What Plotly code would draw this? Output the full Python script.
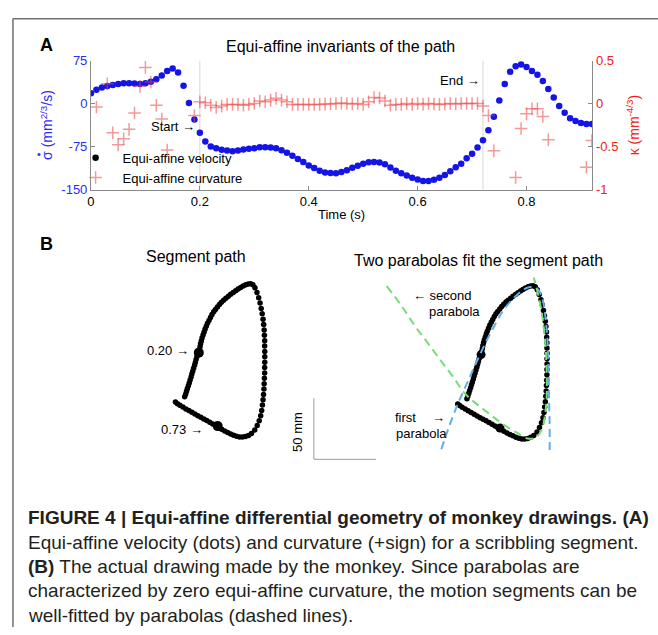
import numpy as np
import plotly.graph_objects as go

W, H = 658, 635
FONT = "Liberation Sans, Arial, Helvetica, sans-serif"
CAP_FONT = "Liberation Sans, Arial, Helvetica, sans-serif"

# ---------------- Panel A data ----------------
time_s = np.round(np.arange(0, 0.925, 0.01), 2)  # sampling instants (s)

velocity = [
    18, 24, 28, 30.5, 32.5, 34, 35.5, 35.5, 35, 34,
    35.5, 38, 42.5, 49, 56.5, 61, 54, 31, 1, -28,
    -51, -66, -75, -78, -80.5, -82, -83, -82, -80, -79,
    -78, -76, -76, -76.5, -78, -81.5, -86, -91, -96.5, -102,
    -108, -112.5, -117, -120, -121, -121.5, -119.5, -116.5, -112, -108.5,
    -105, -102.5, -102, -103, -106, -111.5, -117, -121.5, -125.5, -129.5,
    -132.5, -135, -135, -133, -129.5, -124.5, -118, -111, -105, -95.5,
    -87.5, -76.5, -64, -46.5, -23, 5.5, 34, 55.5, 65, 68,
    63.5, 56.5, 50, 39.5, 25.5, 10.5, -4.5, -16, -25.5, -30.5,
    -34, -35.5, -35.5,
]

curvature = [
    None, -0.04, None, 0.23, -0.34, -0.48, -0.41, -0.30, -0.11, 0.20,
    0.42, 0.25, -0.02, -0.18, -0.54, None, None, None, None, -0.14,
    0.02, 0.01, -0.02, -0.045, -0.03, -0.01, -0.01, -0.01, -0.02, -0.01,
    0.0, 0.03, 0.02, 0.04, 0.06, 0.04, 0.02, -0.01, -0.01, -0.01,
    -0.01, -0.01, -0.01, -0.005, -0.005, 0.0, 0.005, 0.0, -0.005, 0.0,
    -0.01, 0.02, 0.07, 0.065, 0.03, -0.02, -0.01, -0.01, 0.0, -0.01,
    0.0, -0.01, 0.0, -0.005, -0.01, -0.005, 0.0, -0.005, 0.0, 0.0,
    0.0, 0.0, -0.03, -0.14, -0.55, None, None, None, -0.86, -0.29,
    -0.12, -0.06, -0.06, -0.15, -0.42, None, None, None, None, None,
    None, -0.74, -0.43,
]

segment_bounds = [0.2, 0.72]  # start / end of the segment (s)

vel_ticks = [-150, -75, 0, 75]
vel_ticktext = ["-150", "-75", "0", "75"]
curv_ticks = [-1, -0.5, 0, 0.5]
curv_ticktext = ["-1", "-0.5", "0", "0.5"]
time_ticks = [0, 0.2, 0.4, 0.6, 0.8]
time_ticktext = ["0", "0.2", "0.4", "0.6", "0.8"]

# ---------------- Panel B data (mm) ----------------
path_x = [
    97.4, 98.2, 98.9, 99.6, 100.4, 101.1, 101.8, 102.6, 103.2, 103.9,
    104.6, 105.4, 106.0, 106.6, 107.3, 108.0, 109.2, 109.8, 110.2, 110.8,
    111.4, 112.2, 113.0, 113.8, 114.8, 115.8, 117.0, 118.2, 119.4, 120.8,
    122.2, 123.8, 125.4, 127.0, 128.8, 130.6, 132.6, 134.5, 136.5, 138.5,
    140.5, 142.5, 144.5, 146.6, 148.6, 150.6, 152.4,
    154.0, 155.6, 157.0, 158.1, 159.0, 159.8, 160.5, 161.0, 161.4, 161.6,
    161.8, 161.8, 161.9, 161.9, 161.9, 161.8, 161.8, 161.6, 161.4, 161.2,
    160.9, 160.5, 160.0, 159.4, 158.6, 157.4, 155.8, 153.8, 151.2,
    148.8, 146.4, 144.0, 141.6, 139.2, 136.8, 134.4, 132.0, 129.6, 127.2,
    124.8, 122.4, 120.0, 117.6, 115.2, 112.8, 110.4, 108.0, 105.6, 103.2,
    100.8, 98.4, 96.0, 93.6, 91.6, 90.0,
]
path_y = [
    56.6, 58.8, 61.1, 63.4, 65.6, 68.0, 70.4, 72.8, 75.2, 77.6,
    80.0, 82.4, 84.8, 87.2, 89.6, 92.0, 95.2, 97.6, 100.0, 102.4,
    104.8, 107.2, 109.6, 112.0, 114.4, 116.8, 119.2, 121.6, 124.0, 126.2,
    128.2, 130.2, 132.2, 134.0, 135.8, 137.4, 139.0, 140.6, 142.1, 143.5,
    145.0, 146.2, 147.4, 148.4, 149.1, 149.3, 148.4,
    146.0, 142.0, 137.8, 133.4, 129.0, 124.6, 120.2, 115.8, 111.4, 107.0,
    102.6, 98.2, 93.8, 89.4, 85.0, 80.6, 76.2, 71.8, 67.4, 63.0,
    58.6, 54.2, 49.8, 45.4, 41.1, 37.0, 33.0, 29.4, 26.6,
    25.0, 24.0, 23.6, 23.7, 24.2, 25.1, 26.2, 27.4, 28.6, 30.0,
    31.4, 32.9, 34.3, 35.8, 37.1, 38.5, 39.8, 41.1, 42.5, 43.9,
    45.4, 46.7, 48.2, 49.7, 51.0, 52.3,
]
marked_x = [108.8, 124.0]   # positions at t = 0.20 s and 0.73 s
marked_y = [92.8, 32.6]
marked_labels = ["0.20", "0.73"]

first_parabola_x = [76.8, 82.4, 89.6, 97.6, 106.4, 116.8, 127.2, 137.6, 147.2,
                    154.4, 158.4, 160.8, 162.4, 163.2, 163.6, 164.0, 164.0]
first_parabola_y = [15.2, 32.0, 51.2, 69.6, 89.6, 111.2, 129.6, 141.6, 148.0,
                    146.4, 137.6, 121.6, 101.6, 77.6, 53.6, 33.6, 13.6]
second_parabola_x = [32.8, 44.8, 55.2, 66.4, 76.8, 86.4, 95.2, 105.6, 116.8, 127.2,
                     137.6, 146.4, 152.8, 157.6, 160.0, 161.6, 161.6, 160.8, 158.4,
                     155.2, 151.2]
second_parabola_y = [148.8, 132.8, 116.8, 101.6, 87.2, 74.4, 61.6, 52.0, 43.2, 35.2,
                     28.8, 24.0, 24.8, 31.2, 41.6, 57.6, 77.6, 97.6, 121.6,
                     140.0, 156.0]
scale_bar_mm = 50

VEL_BLUE = "#1414e6"
TICK_BLUE = "#2d2df2"
CURV_RED = "rgba(235,70,70,0.55)"
TICK_RED = "#f02020"
AXIS_GRAY = "#8a8a8a"


def px(xp):
    return xp / W


def py(yp):
    return 1 - yp / H


fig = go.Figure()

# velocity dots
fig.add_trace(go.Scatter(
    x=time_s, y=velocity, mode="markers", xaxis="x", yaxis="y",
    marker=dict(color=VEL_BLUE, size=6.5, line=dict(width=0)),
    showlegend=False, hoverinfo="skip"))
# curvature crosses
fig.add_trace(go.Scatter(
    x=time_s, y=curvature, mode="markers", xaxis="x", yaxis="y2",
    marker=dict(symbol="cross-thin", size=9, line=dict(color=CURV_RED, width=1.5)),
    showlegend=False, hoverinfo="skip"))
# legend entries
fig.add_trace(go.Scatter(
    x=[None], y=[None], mode="markers", xaxis="x", yaxis="y",
    marker=dict(color="black", size=6.5), name="Equi-affine velocity"))
fig.add_trace(go.Scatter(
    x=[None], y=[None], mode="markers", xaxis="x", yaxis="y",
    marker=dict(symbol="cross-thin", size=9, line=dict(color=CURV_RED, width=1.5)),
    name="Equi-affine curvature"))

# Panel B left: segment path
fig.add_trace(go.Scatter(
    x=path_x, y=path_y, mode="markers", xaxis="x2", yaxis="y3",
    marker=dict(color="black", size=5.5), showlegend=False, hoverinfo="skip"))
fig.add_trace(go.Scatter(
    x=marked_x, y=marked_y, mode="markers", xaxis="x2", yaxis="y3",
    marker=dict(color="black", size=10), showlegend=False, hoverinfo="skip"))

# Panel B right: path with parabolas
fig.add_trace(go.Scatter(
    x=path_x, y=path_y, mode="markers", xaxis="x3", yaxis="y4",
    marker=dict(color="black", size=5.5), showlegend=False, hoverinfo="skip"))
fig.add_trace(go.Scatter(
    x=marked_x, y=marked_y, mode="markers", xaxis="x3", yaxis="y4",
    marker=dict(color="black", size=9), showlegend=False, hoverinfo="skip"))
fig.add_trace(go.Scatter(
    x=first_parabola_x, y=first_parabola_y, mode="lines", xaxis="x3", yaxis="y4",
    line=dict(color="#62aee8", width=2, dash="8px,5px", shape="spline"),
    showlegend=False, hoverinfo="skip"))
fig.add_trace(go.Scatter(
    x=second_parabola_x, y=second_parabola_y, mode="lines", xaxis="x3", yaxis="y4",
    line=dict(color="#78dc78", width=2, dash="8px,5px", shape="spline"),
    showlegend=False, hoverinfo="skip"))

tickfont = dict(family=FONT, size=13)

fig.update_layout(
    width=W, height=H,
    margin=dict(l=0, r=0, t=0, b=0),
    paper_bgcolor="white", plot_bgcolor="rgba(0,0,0,0)",
    font=dict(family=FONT, size=13, color="black"),
    xaxis=dict(
        domain=[px(87.5), px(592)], range=[0, 0.921], anchor="y",
        showline=True, linecolor=AXIS_GRAY, linewidth=1, mirror=False,
        ticks="inside", ticklen=4, tickcolor=AXIS_GRAY,
        tickvals=time_ticks, ticktext=time_ticktext, tickfont=tickfont,
        showgrid=False, zeroline=False),
    yaxis=dict(
        domain=[py(187), py(54.8)], range=[-150, 75], anchor="x",
        showline=True, linecolor=AXIS_GRAY, linewidth=1,
        ticks="inside", ticklen=4, tickcolor=AXIS_GRAY,
        tickvals=vel_ticks, ticktext=vel_ticktext,
        tickfont=dict(family=FONT, size=13, color=TICK_BLUE),
        showgrid=False, zeroline=False),
    yaxis2=dict(
        overlaying="y", side="right", range=[-1, 0.5], anchor="x",
        showline=True, linecolor=AXIS_GRAY, linewidth=1,
        ticks="inside", ticklen=4, tickcolor=AXIS_GRAY,
        tickvals=curv_ticks, ticktext=curv_ticktext,
        tickfont=dict(family=FONT, size=13, color=TICK_RED),
        showgrid=False, zeroline=False),
    xaxis2=dict(domain=[px(60), px(380)], range=[0, 256], anchor="y3", visible=False),
    yaxis3=dict(domain=[py(470), py(268)], range=[0, 161.6], anchor="x2", visible=False),
    xaxis3=dict(domain=[px(344), 1.0], range=[0, 251.2], anchor="y4", visible=False),
    yaxis4=dict(domain=[py(472), py(270)], range=[0, 161.6], anchor="x3", visible=False),
    legend=dict(
        x=px(65), y=py(139), xanchor="left", yanchor="top",
        bgcolor="rgba(0,0,0,0)", borderwidth=0,
        font=dict(family=FONT, size=13, color="black"),
        itemwidth=44, tracegroupgap=0),
    showlegend=True,
)

shapes = []
for tb in segment_bounds:
    shapes.append(dict(type="line", xref="x", yref="y", x0=tb, x1=tb, y0=-150, y1=75,
                       line=dict(color="#d6d6d6", width=1), layer="below"))
# scale bar (50 mm)
shapes.append(dict(type="line", xref="x2", yref="y3", x0=201.4, x1=201.4,
                   y0=5.4, y1=5.4 + scale_bar_mm, line=dict(color="#9a9a9a", width=1)))
shapes.append(dict(type="line", xref="x2", yref="y3", x0=201.4, x1=201.4 + scale_bar_mm,
                   y0=5.4, y1=5.4, line=dict(color="#9a9a9a", width=1)))
# figure frame
shapes.append(dict(type="line", xref="paper", yref="paper", x0=px(9), x1=1.0,
                   y0=py(12), y1=py(12), line=dict(color="#707070", width=1.5)))
shapes.append(dict(type="line", xref="paper", yref="paper", x0=px(9), x1=px(9),
                   y0=py(12), y1=0.0, line=dict(color="#707070", width=1.5)))
fig.update_layout(shapes=shapes)

ann = []


def text(x, y, s, size=13, color="black", xanchor="center", angle=0, family=FONT):
    ann.append(dict(x=px(x), y=py(y), xref="paper", yref="paper", text=s, showarrow=False,
                    xanchor=xanchor, yanchor="middle", textangle=angle,
                    font=dict(family=family, size=size, color=color)))


text(43, 39, "<b>A</b>", size=18)
text(339, 40, "Equi-affine invariants of the path", size=16)
text(194, 122, "Start \u2192", size=13, xanchor="right")
text(481, 75, "End \u2192", size=13, xanchor="right")
text(43, 121, "\u03c3 (mm<sup>2/3</sup>/s)", size=14, color=TICK_BLUE, angle=-90)
text(35.5, 151, "\u2022", size=11, color=TICK_BLUE)   # time-derivative dot over sigma
text(633, 121, "\u03ba (mm<sup>-4/3</sup>)", size=14, color=TICK_RED, angle=-90)
text(340, 213, "Time (s)", size=13)

text(43, 243, "<b>B</b>", size=18)
text(193, 256, "Segment path", size=16)
text(477, 260, "Two parabolas fit the segment path", size=16)
text(188, 352, marked_labels[0] + " \u2192", size=13, xanchor="right")
text(202, 433, marked_labels[1] + " \u2192", size=13, xanchor="right")
text(296, 435, f"{scale_bar_mm} mm", size=13, angle=-90)
text(409, 295, "\u2190 second", size=13, xanchor="left")
text(426, 312, "parabola", size=13, xanchor="left")
text(391, 420, "first", size=13, xanchor="left")
text(429, 420, "\u2192", size=13, xanchor="left")
text(392, 437, "parabola", size=13, xanchor="left")

cap_color = "#231f20"
CAP_SIZE = 19
text(22, 523, "<b>FIGURE 4 | Equi-affine differential geometry of monkey drawings. (A)</b>",
     size=CAP_SIZE, color=cap_color, xanchor="left", family=CAP_FONT)
text(22, 548, "Equi-affine velocity (dots) and curvature (+sign) for a scribbling segment.",
     size=CAP_SIZE, color=cap_color, xanchor="left", family=CAP_FONT)
text(22, 573, "<b>(B)</b> The actual drawing made by the monkey. Since parabolas are",
     size=CAP_SIZE, color=cap_color, xanchor="left", family=CAP_FONT)
text(22, 598, "characterized by zero equi-affine curvature, the motion segments can be",
     size=CAP_SIZE, color=cap_color, xanchor="left", family=CAP_FONT)
text(22, 623, "well-fitted by parabolas (dashed lines).",
     size=CAP_SIZE, color=cap_color, xanchor="left", family=CAP_FONT)

fig.update_layout(annotations=ann)

assert len(velocity) == len(time_s) == len(curvature)
assert len(path_x) == len(path_y)

fig.write_html(
    "out.html",
    config={"displayModeBar": False},
    post_script="document.body.style.margin='0';document.body.style.overflow='hidden';",
)
